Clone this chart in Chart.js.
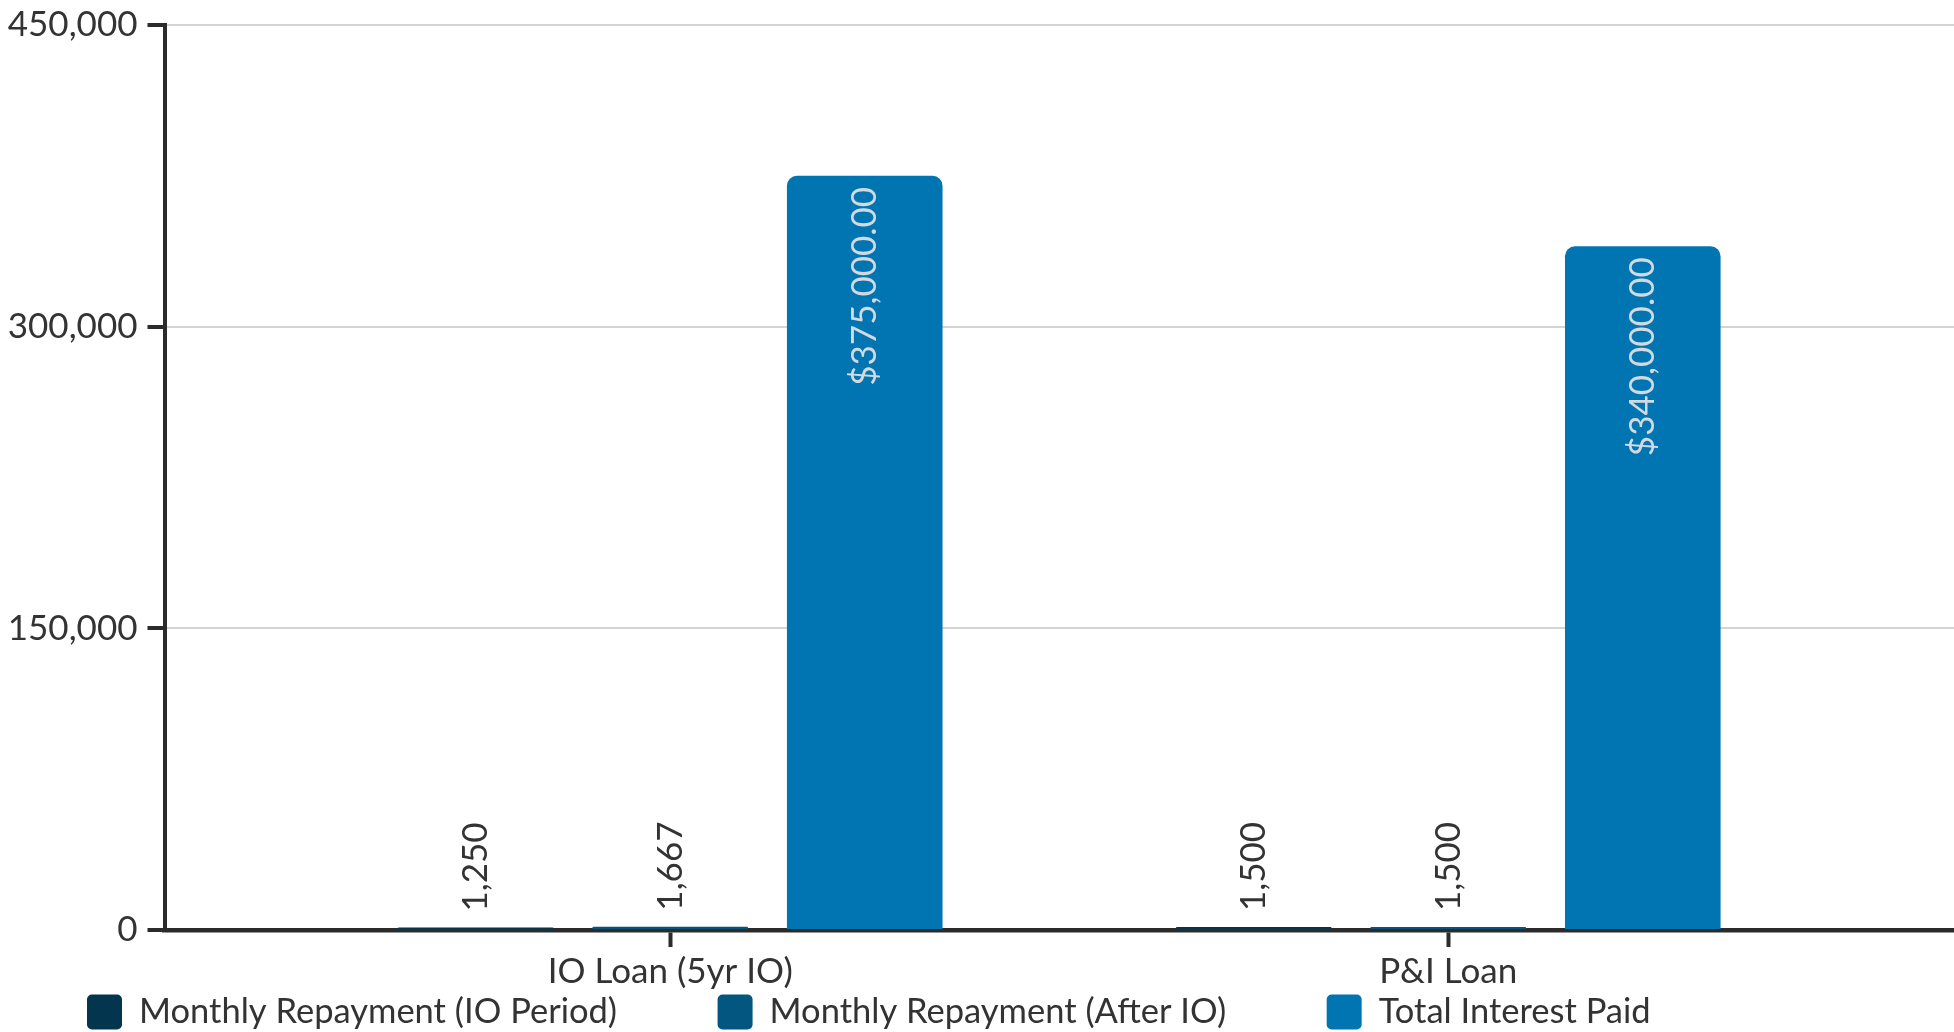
<!DOCTYPE html>
<html>
<head>
<meta charset="utf-8">
<script src="https://cdn.jsdelivr.net/npm/chart.js@4.4.1/dist/chart.umd.min.js"></script>
<style>
  html, body { margin: 0; padding: 0; background: #ffffff; }
  #wrap { width: 1954px; height: 1032px; }
</style>
</head>
<body>
<div id="wrap"><canvas id="c" width="1954" height="1032"></canvas></div>
<script>
// ---- data ----
const categories = ["IO Loan (5yr IO)", "P&I Loan"];
const seriesNames = ["Monthly Repayment (IO Period)", "Monthly Repayment (After IO)", "Total Interest Paid"];
const ioPeriodRepayment = [1250, 1500];
const afterIoRepayment = [1667, 1500];
const totalInterestPaid = [375000, 340000];
const yTicks = [0, 150000, 300000, 450000];

// ---- style ----
const FONT = "Lato";
const FS = 35;
const TEXT = "#333333";
const AXIS = "#2b2b2b";
const colors = ["#03354F", "#02567F", "#0175B1"];

const fmtInt = v => Math.round(v).toLocaleString("en-US");
const fmtMoney = v => "$" + v.toLocaleString("en-US", {minimumFractionDigits: 2, maximumFractionDigits: 2});

const toXY = arr => arr.map((v, i) => ({x: i, y: v}));

const labelPlugin = {
  id: "barLabels",
  afterDatasetsDraw(chart) {
    const ctx = chart.ctx;
    chart.data.datasets.forEach((ds, di) => {
      const meta = chart.getDatasetMeta(di);
      meta.data.forEach((el, i) => {
        const v = ds.data[i].y;
        ctx.save();
        ctx.font = FS + "px " + FONT;
        ctx.textBaseline = "middle";
        if (di === 2) {
          ctx.translate(el.x, el.y + 11);
          ctx.rotate(-Math.PI / 2);
          ctx.textAlign = "right";
          ctx.fillStyle = "#d3d9de";
          ctx.fillText(fmtMoney(v), 0, 0);
        } else {
          ctx.translate(el.x, el.y - 16);
          ctx.rotate(-Math.PI / 2);
          ctx.textAlign = "left";
          ctx.fillStyle = TEXT;
          ctx.fillText(fmtInt(v), 0, 0);
        }
        ctx.restore();
      });
    });
  }
};

const legendPlugin = {
  id: "customLegend",
  afterDraw(chart) {
    const ctx = chart.ctx;
    ctx.save();
    ctx.font = (FS - 0.5) + "px " + FONT;
    ctx.textBaseline = "middle";
    ctx.textAlign = "left";
    let x = 87;
    const yc = 1012;
    const box = 35;
    const gap = 17;
    chart.data.datasets.forEach((ds, di) => {
      ctx.fillStyle = ds.backgroundColor;
      ctx.beginPath();
      if (ctx.roundRect) ctx.roundRect(x, yc - box / 2, box, box, 5);
      else ctx.rect(x, yc - box / 2, box, box);
      ctx.fill();
      ctx.fillStyle = TEXT;
      ctx.fillText(ds.label, x + box + gap, yc);
      x += box + gap + ctx.measureText(ds.label).width + 100.5;
    });
    ctx.restore();
  }
};

function draw() {
  new Chart(document.getElementById("c"), {
    type: "bar",
    data: {
      datasets: [
        {label: seriesNames[0], data: toXY(ioPeriodRepayment), backgroundColor: colors[0]},
        {label: seriesNames[1], data: toXY(afterIoRepayment), backgroundColor: colors[1]},
        {label: seriesNames[2], data: toXY(totalInterestPaid), backgroundColor: colors[2]}
      ]
    },
    options: {
      responsive: false,
      animation: false,
      devicePixelRatio: 1,
      categoryPercentage: 0.75,
      barPercentage: 0.8,
      borderRadius: 10,
      layout: {padding: {top: 0, right: 0, bottom: 42, left: 0}},
      plugins: {
        legend: {display: false},
        tooltip: {enabled: false}
      },
      scales: {
        x: {
          type: "linear",
          min: -0.65,
          max: 1.65,
          offset: false,
          afterBuildTicks: s => { s.ticks = categories.map((c, i) => ({value: i})); },
          afterFit: s => { s.height = 60; },
          grid: {display: true, offset: false, drawOnChartArea: false, tickLength: 17, tickColor: AXIS, tickWidth: 4},
          border: {display: true, color: AXIS, width: 4.5},
          ticks: {
            color: TEXT,
            font: {family: FONT, size: FS},
            padding: 4,
            maxRotation: 0,
            autoSkip: false,
            callback: v => categories[v]
          }
        },
        y: {
          min: 0,
          max: 450000,
          afterBuildTicks: s => { s.ticks = yTicks.map(v => ({value: v})); },
          afterFit: s => { s.width = 164.5; s.paddingTop = 25; },
          grid: {color: "#d4d4d4", lineWidth: 2, tickLength: 17, tickColor: AXIS, tickWidth: 4},
          border: {display: true, color: AXIS, width: 4},
          ticks: {
            color: TEXT,
            font: {family: FONT, size: FS},
            padding: 10,
            callback: v => fmtInt(v)
          }
        }
      }
    },
    plugins: [labelPlugin, legendPlugin]
  });
}

if (document.fonts && document.fonts.load) {
  document.fonts.load(FS + "px " + FONT).then(draw, draw);
} else {
  draw();
}
</script>
</body>
</html>
